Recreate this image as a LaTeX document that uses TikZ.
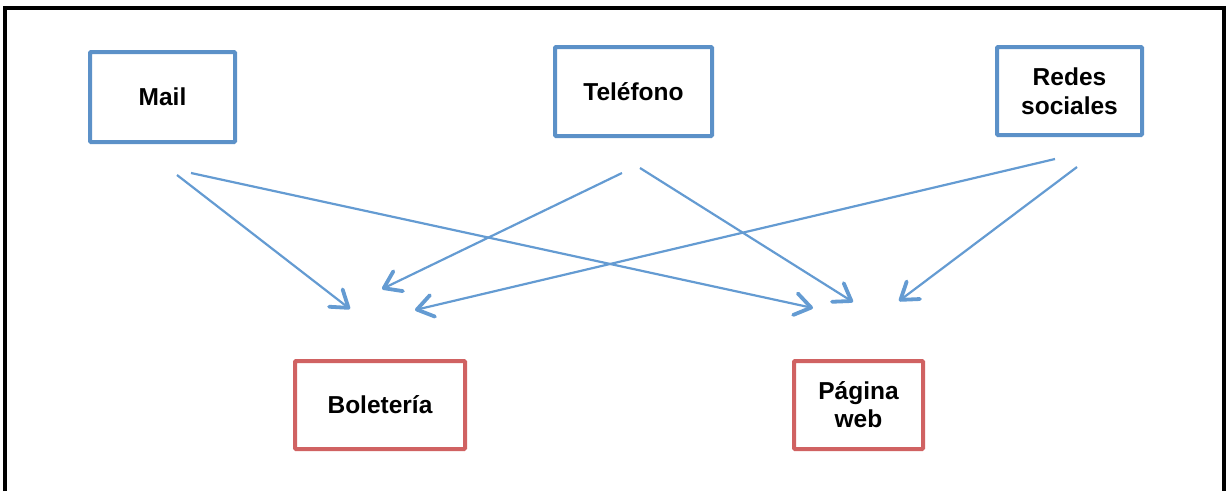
\documentclass[tikz,border=0pt]{standalone}
\usepackage{fontspec}
\setmainfont{Liberation Sans}
\usetikzlibrary{arrows.meta}
\definecolor{boxblue}{RGB}{92,145,200}
\definecolor{arrblue}{RGB}{100,155,210}
\definecolor{boxred}{RGB}{208,98,98}
\tikzset{
  srcbox/.style={draw=boxblue, line width=4pt, rounded corners=1pt, align=center,
    font=\fontsize{24.5}{29}\selectfont\bfseries, inner sep=0pt},
  dstbox/.style={draw=boxred, line width=4pt, rounded corners=1pt, align=center,
    font=\fontsize{24.5}{28}\selectfont\bfseries, inner sep=0pt},
  link/.style={draw=arrblue, line width=2.2pt,
    -{Straight Barb[length=16pt,width=22pt,line width=3.8pt,round]}}
}
\begin{document}
\begin{tikzpicture}[x=1pt,y=-1pt]
\useasboundingbox (0,0) rectangle (1226,491);
\draw[line width=4pt] (4.5,491) -- (4.5,8) -- (1223.5,8) -- (1223.5,491);

\node[srcbox, minimum width=145pt, minimum height=90pt] (mail) at (162.5,97) {Mail};
\node[srcbox, minimum width=157pt, minimum height=89pt] (tel) at (633.5,91.5) {Teléfono};
\node[srcbox, minimum width=145pt, minimum height=88pt] (redes) at (1069.5,91) {Redes\\sociales};
\node[dstbox, minimum width=170pt, minimum height=88pt] (bol) at (380,405) {Boletería};
\node[dstbox, minimum width=129pt, minimum height=88pt] (web) at (858.5,405) {Página\\web};

\coordinate (m1) at (177,175);  \coordinate (b1) at (350,309);
\coordinate (m2) at (191,173);  \coordinate (w2) at (813,308);
\coordinate (t1) at (622,173);  \coordinate (b3) at (382,289);
\coordinate (t2) at (640,168);  \coordinate (w4) at (853,302);
\coordinate (r1) at (1055,159); \coordinate (b5) at (415,310);
\coordinate (r2) at (1077,167); \coordinate (w6) at (899,301);

\draw[link] (m1) -- (b1);
\draw[link] (m2) -- (w2);
\draw[link] (t1) -- (b3);
\draw[link] (t2) -- (w4);
\draw[link] (r1) -- (b5);
\draw[link] (r2) -- (w6);
\end{tikzpicture}
\end{document}
